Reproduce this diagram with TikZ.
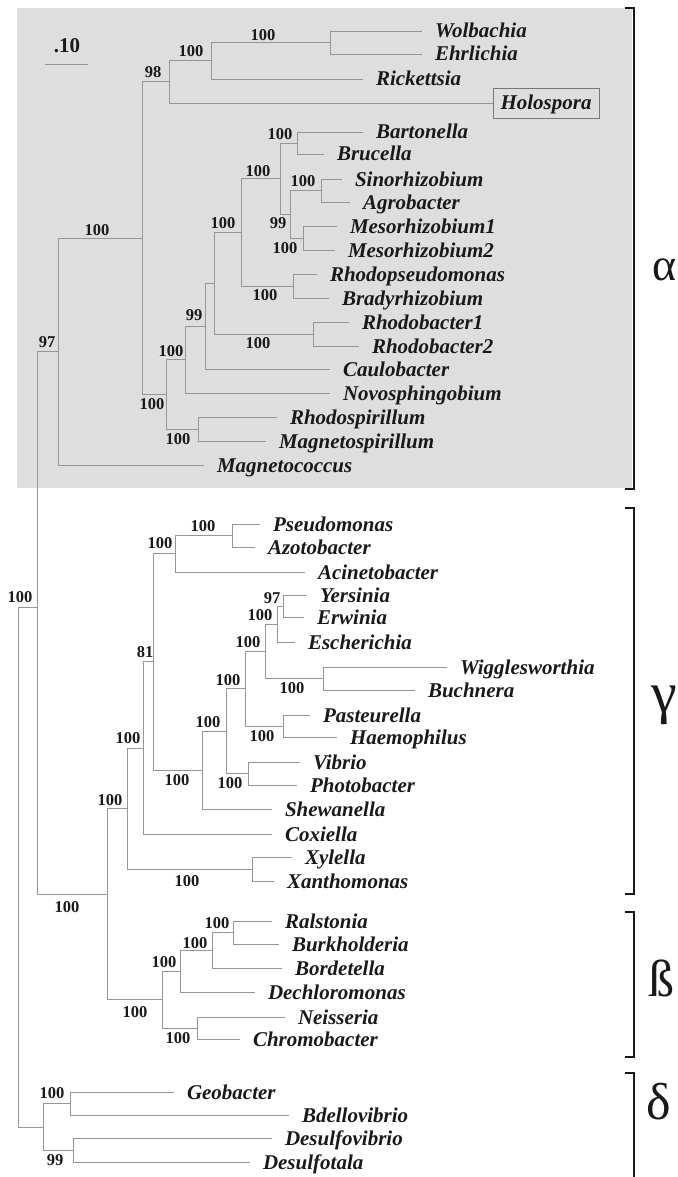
\documentclass[tikz,border=0pt]{standalone}
\usepackage{fontspec}
\setmainfont{Liberation Serif}
\definecolor{bgc}{RGB}{222,222,222}
\definecolor{brc}{RGB}{150,150,150}
\definecolor{boxc}{RGB}{120,120,120}
\definecolor{ink}{RGB}{25,25,25}
\tikzset{
  leaf/.style={anchor=west, inner xsep=0pt, inner ysep=0pt, outer xsep=13pt, outer ysep=0pt,
    text height=14pt, text depth=0pt, font=\fontsize{21}{24}\selectfont\bfseries\itshape, text=ink},
  bs/.style={inner sep=0pt, font=\fontsize{16.5}{18}\selectfont\bfseries, text=ink},
  edge/.style={draw=brc, line width=0.9pt},
  clade/.style={draw=ink, line width=2pt},
  greek/.style={inner sep=0pt, text=ink, anchor=center},
}
\begin{document}
\begin{tikzpicture}[x=1pt,y=-1pt]
\useasboundingbox (0,0) rectangle (677,1177);
\fill[bgc] (17,8) rectangle (632,488);

% scale bar
\node[inner sep=0pt, font=\fontsize{21}{24}\selectfont\bfseries, text=ink] (scalelab) at (67,46) {.10};
\coordinate (sbA) at (45,64);
\coordinate (sbB) at (88,64);
\draw[edge] (sbA) -- (sbB);

% ---------------- leaves ----------------
% alpha
\node[leaf] (Wolbachia) at (422,31) {Wolbachia};
\node[leaf] (Ehrlichia) at (422,54) {Ehrlichia};
\node[leaf] (Rickettsia) at (363,79) {Rickettsia};
\node[draw=boxc, line width=0.9pt, minimum width=106pt, minimum height=30pt, inner sep=0pt,
      font=\fontsize{21}{24}\selectfont\bfseries\itshape, text=ink, text height=14pt, text depth=0pt] (Holospora) at (546,103) {Holospora};
\node[leaf] (Bartonella) at (363,132) {Bartonella};
\node[leaf] (Brucella) at (324,154) {Brucella};
\node[leaf] (Sinorhizobium) at (342,179) {Sinorhizobium};
\node[leaf] (Agrobacter) at (350,202) {Agrobacter};
\node[leaf] (Meso1) at (337,226) {Mesorhizobium1};
\node[leaf] (Meso2) at (335,250) {Mesorhizobium2};
\node[leaf] (Rhodopseudomonas) at (317,274) {Rhodopseudomonas};
\node[leaf] (Bradyrhizobium) at (329,298) {Bradyrhizobium};
\node[leaf] (Rhodobacter1) at (349,322) {Rhodobacter1};
\node[leaf] (Rhodobacter2) at (359,346) {Rhodobacter2};
\node[leaf] (Caulobacter) at (330,369) {Caulobacter};
\node[leaf] (Novosphingobium) at (330,393) {Novosphingobium};
\node[leaf] (Rhodospirillum) at (277,417) {Rhodospirillum};
\node[leaf] (Magnetospirillum) at (266,441) {Magnetospirillum};
\node[leaf] (Magnetococcus) at (204,465) {Magnetococcus};
% gamma
\node[leaf] (Pseudomonas) at (260,524) {Pseudomonas};
\node[leaf] (Azotobacter) at (255,547) {Azotobacter};
\node[leaf] (Acinetobacter) at (305,572) {Acinetobacter};
\node[leaf] (Yersinia) at (307,595) {Yersinia};
\node[leaf] (Erwinia) at (304,617) {Erwinia};
\node[leaf] (Escherichia) at (295,642) {Escherichia};
\node[leaf] (Wigglesworthia) at (447,667) {Wigglesworthia};
\node[leaf] (Buchnera) at (415,690) {Buchnera};
\node[leaf] (Pasteurella) at (310,715) {Pasteurella};
\node[leaf] (Haemophilus) at (337,737) {Haemophilus};
\node[leaf] (Vibrio) at (300,762) {Vibrio};
\node[leaf] (Photobacter) at (297,785) {Photobacter};
\node[leaf] (Shewanella) at (272,809) {Shewanella};
\node[leaf] (Coxiella) at (272,834) {Coxiella};
\node[leaf] (Xylella) at (292,857) {Xylella};
\node[leaf] (Xanthomonas) at (274,881) {Xanthomonas};
% beta
\node[leaf] (Ralstonia) at (272,921) {Ralstonia};
\node[leaf] (Burkholderia) at (279,944) {Burkholderia};
\node[leaf] (Bordetella) at (282,968) {Bordetella};
\node[leaf] (Dechloromonas) at (255,992) {Dechloromonas};
\node[leaf] (Neisseria) at (285,1017) {Neisseria};
\node[leaf] (Chromobacter) at (240,1039) {Chromobacter};
% delta
\node[leaf] (Geobacter) at (174,1092) {Geobacter};
\node[leaf] (Bdellovibrio) at (289,1115) {Bdellovibrio};
\node[leaf] (Desulfovibrio) at (272,1138) {Desulfovibrio};
\node[leaf] (Desulfotala) at (250,1162) {Desulfotala};

% ---------------- internal nodes ----------------
\coordinate (nWE) at (330,42.5);
\coordinate (nWER) at (211,60.75);
\coordinate (nRk) at (169,81.9);
\coordinate (nBB) at (297,143);
\coordinate (nSA) at (321,190.5);
\coordinate (nMM) at (303,238);
\coordinate (nSAMM) at (290,214.25);
\coordinate (n99a) at (280,178.6);
\coordinate (nRB) at (293,286);
\coordinate (n100c) at (241,232.3);
\coordinate (nRb) at (313,334);
\coordinate (n214) at (214,283.2);
\coordinate (n205) at (205,326.1);
\coordinate (n185) at (185,359.5);
\coordinate (nRM) at (198,429);
\coordinate (n166) at (166,394.3);
\coordinate (n142) at (142,238.1);
\coordinate (n58) at (58,351.4);
\coordinate (n37) at (37,607);
\coordinate (n107) at (107,894);
\coordinate (nPA) at (232,535.5);
\coordinate (n175) at (175,553.75);
\coordinate (nYE) at (283,606);
\coordinate (n277) at (277,624);
\coordinate (nWB) at (323,678.5);
\coordinate (n265) at (265,651.25);
\coordinate (nPH) at (283,726);
\coordinate (n245) at (245,688.6);
\coordinate (nVP) at (248,773.5);
\coordinate (n226) at (226,731);
\coordinate (n202) at (202,770);
\coordinate (n153) at (153,661.9);
\coordinate (n143) at (143,748);
\coordinate (nXX) at (252,869);
\coordinate (n127) at (127,808.5);
\coordinate (nRBk) at (233,932.5);
\coordinate (n212) at (212,950.25);
\coordinate (n180) at (180,971);
\coordinate (nNC) at (197,1028);
\coordinate (n162) at (162,999.5);
\coordinate (nGB) at (70,1103.5);
\coordinate (nDD) at (73,1150);
\coordinate (n43) at (43,1127);
\coordinate (n18) at (18,867);

% ---------------- edges ----------------
\draw[edge] (nWE) |- (Wolbachia.west);
\draw[edge] (nWE) |- (Ehrlichia.west);
\draw[edge] (nWER) |- (nWE);
\draw[edge] (nWER) |- (Rickettsia.west);
\draw[edge] (nRk) |- (nWER);
\draw[edge] (nRk) |- (Holospora.west);
\draw[edge] (nBB) |- (Bartonella.west);
\draw[edge] (nBB) |- (Brucella.west);
\draw[edge] (nSA) |- (Sinorhizobium.west);
\draw[edge] (nSA) |- (Agrobacter.west);
\draw[edge] (nMM) |- (Meso1.west);
\draw[edge] (nMM) |- (Meso2.west);
\draw[edge] (nSAMM) |- (nSA);
\draw[edge] (nSAMM) |- (nMM);
\draw[edge] (n99a) |- (nBB);
\draw[edge] (n99a) |- (nSAMM);
\draw[edge] (nRB) |- (Rhodopseudomonas.west);
\draw[edge] (nRB) |- (Bradyrhizobium.west);
\draw[edge] (n100c) |- (n99a);
\draw[edge] (n100c) |- (nRB);
\draw[edge] (nRb) |- (Rhodobacter1.west);
\draw[edge] (nRb) |- (Rhodobacter2.west);
\draw[edge] (n214) |- (n100c);
\draw[edge] (n214) |- (nRb);
\draw[edge] (n205) |- (n214);
\draw[edge] (n205) |- (Caulobacter.west);
\draw[edge] (n185) |- (n205);
\draw[edge] (n185) |- (Novosphingobium.west);
\draw[edge] (nRM) |- (Rhodospirillum.west);
\draw[edge] (nRM) |- (Magnetospirillum.west);
\draw[edge] (n166) |- (n185);
\draw[edge] (n166) |- (nRM);
\draw[edge] (n142) |- (nRk);
\draw[edge] (n142) |- (n166);
\draw[edge] (n58) |- (n142);
\draw[edge] (n58) |- (Magnetococcus.west);
\draw[edge] (n37) |- (n58);
\draw[edge] (n37) |- (n107);
% gamma
\draw[edge] (nPA) |- (Pseudomonas.west);
\draw[edge] (nPA) |- (Azotobacter.west);
\draw[edge] (n175) |- (nPA);
\draw[edge] (n175) |- (Acinetobacter.west);
\draw[edge] (nYE) |- (Yersinia.west);
\draw[edge] (nYE) |- (Erwinia.west);
\draw[edge] (n277) |- (nYE);
\draw[edge] (n277) |- (Escherichia.west);
\draw[edge] (nWB) |- (Wigglesworthia.west);
\draw[edge] (nWB) |- (Buchnera.west);
\draw[edge] (n265) |- (n277);
\draw[edge] (n265) |- (nWB);
\draw[edge] (nPH) |- (Pasteurella.west);
\draw[edge] (nPH) |- (Haemophilus.west);
\draw[edge] (n245) |- (n265);
\draw[edge] (n245) |- (nPH);
\draw[edge] (nVP) |- (Vibrio.west);
\draw[edge] (nVP) |- (Photobacter.west);
\draw[edge] (n226) |- (n245);
\draw[edge] (n226) |- (nVP);
\draw[edge] (n202) |- (n226);
\draw[edge] (n202) |- (Shewanella.west);
\draw[edge] (n153) |- (n175);
\draw[edge] (n153) |- (n202);
\draw[edge] (n143) |- (n153);
\draw[edge] (n143) |- (Coxiella.west);
\draw[edge] (nXX) |- (Xylella.west);
\draw[edge] (nXX) |- (Xanthomonas.west);
\draw[edge] (n127) |- (n143);
\draw[edge] (n127) |- (nXX);
\draw[edge] (n107) |- (n127);
\draw[edge] (n107) |- (n162);
% beta
\draw[edge] (nRBk) |- (Ralstonia.west);
\draw[edge] (nRBk) |- (Burkholderia.west);
\draw[edge] (n212) |- (nRBk);
\draw[edge] (n212) |- (Bordetella.west);
\draw[edge] (n180) |- (n212);
\draw[edge] (n180) |- (Dechloromonas.west);
\draw[edge] (nNC) |- (Neisseria.west);
\draw[edge] (nNC) |- (Chromobacter.west);
\draw[edge] (n162) |- (n180);
\draw[edge] (n162) |- (nNC);
% delta
\draw[edge] (nGB) |- (Geobacter.west);
\draw[edge] (nGB) |- (Bdellovibrio.west);
\draw[edge] (nDD) |- (Desulfovibrio.west);
\draw[edge] (nDD) |- (Desulfotala.west);
\draw[edge] (n43) |- (nGB);
\draw[edge] (n43) |- (nDD);
\draw[edge] (n18) |- (n37);
\draw[edge] (n18) |- (n43);

% ---------------- bootstrap values ----------------
\node[bs] (b01) at (263,35) {100};
\node[bs] (b02) at (191,51) {100};
\node[bs] (b03) at (153,72) {98};
\node[bs] (b04) at (97,230) {100};
\node[bs] (b05) at (47,342) {97};
\node[bs] (b06) at (280,134) {100};
\node[bs] (b07) at (258,171) {100};
\node[bs] (b08) at (303,181) {100};
\node[bs] (b09) at (278,223) {99};
\node[bs] (b10) at (285,248) {100};
\node[bs] (b11) at (223,223) {100};
\node[bs] (b12) at (265,295) {100};
\node[bs] (b13) at (194,315) {99};
\node[bs] (b14) at (258,343) {100};
\node[bs] (b15) at (171,351) {100};
\node[bs] (b16) at (152,404) {100};
\node[bs] (b17) at (178,439) {100};
\node[bs] (b18) at (20,597) {100};
\node[bs] (b19) at (67,907) {100};
\node[bs] (b20) at (110,800) {100};
\node[bs] (b21) at (135,1012) {100};
\node[bs] (b22) at (128,738) {100};
\node[bs] (b23) at (187,881) {100};
\node[bs] (b24) at (145,652) {81};
\node[bs] (b25) at (160,543) {100};
\node[bs] (b26) at (177,780) {100};
\node[bs] (b27) at (203,526) {100};
\node[bs] (b28) at (272,598) {97};
\node[bs] (b29) at (260,615) {100};
\node[bs] (b30) at (248,642) {100};
\node[bs] (b31) at (292,688) {100};
\node[bs] (b32) at (228,680) {100};
\node[bs] (b33) at (262,736) {100};
\node[bs] (b34) at (208,722) {100};
\node[bs] (b35) at (230,783) {100};
\node[bs] (b36) at (217,923) {100};
\node[bs] (b37) at (195,943) {100};
\node[bs] (b38) at (164,962) {100};
\node[bs] (b39) at (178,1038) {100};
\node[bs] (b40) at (52,1093) {100};
\node[bs] (b41) at (55,1160) {99};

% ---------------- clade brackets ----------------
\draw[clade] (625,8) -- (634,8) -- (634,489) -- (625,489);
\draw[clade] (625,508) -- (634,508) -- (634,894) -- (625,894);
\draw[clade] (625,912) -- (634,912) -- (634,1057) -- (625,1057);
\draw[clade] (625,1073) -- (634,1073) -- (634,1190);

\node[greek, font=\fontsize{46}{50}\selectfont] (alpha) at (665,270) {α};
\node[greek, font=\fontsize{58}{62}\selectfont] (gamma) at (664,705) {γ};
\node[greek, font=\fontsize{52}{56}\selectfont] (beta) at (661,978) {ß};
\node[greek, font=\fontsize{52}{56}\selectfont] (delta) at (659,1102) {δ};
\end{tikzpicture}
\end{document}
